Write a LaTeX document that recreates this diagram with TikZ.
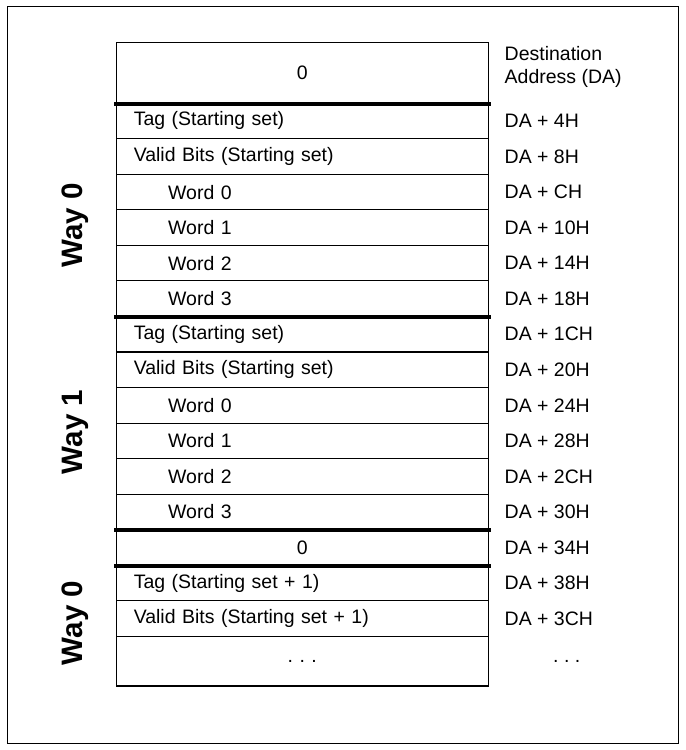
\documentclass[tikz,border=0pt]{standalone}
\usepackage{fontspec}
\setmainfont{Liberation Sans}
\begin{document}
\begin{tikzpicture}[
        cell/.style={
            rectangle,
            draw=black,
            line width=0.8pt,
            minimum width=9.74cm,
            minimum height=0.93cm,
            text width=8.82cm,
            inner xsep=0.46cm,
            inner ysep=0pt,
            align=left,
            font=\fontsize{14.5pt}{17pt}\selectfont
        },
        wordcell/.style={
            cell,
            text width=7.02cm,
            inner xsep=1.36cm
        },
        midcell/.style={
            cell,
            align=center
        },
        addr/.style={
            anchor=west,
            inner sep=0pt,
            align=left,
            font=\fontsize{14.5pt}{17pt}\selectfont
        },
        waylabel/.style={
            rotate=90,
            inner sep=0pt,
            font=\fontsize{22pt}{26pt}\selectfont\bfseries
        },
        sepline/.style={line width=2.8pt, line cap=rect}
    ]
    \useasboundingbox (0,0) rectangle (17.95,-19.625);
    % Outer frame
    \draw[line width=0.8pt] (0.2,-0.175) rectangle (17.75,-19.45);

    % Cells of the table
    \node[midcell, minimum height=1.6cm] (r0) at (7.91, -1.9) {0};
    \node[cell] (r1) at (7.91, -3.165) {Tag (Starting set)};
    \node[cell] (r2) at (7.91, -4.095) {Valid Bits (Starting set)};
    \node[wordcell] (r3) at (7.91, -5.025) {Word 0};
    \node[wordcell] (r4) at (7.91, -5.955) {Word 1};
    \node[wordcell] (r5) at (7.91, -6.885) {Word 2};
    \node[wordcell] (r6) at (7.91, -7.815) {Word 3};
    \node[cell] (r7) at (7.91, -8.745) {Tag (Starting set)};
    \node[cell] (r8) at (7.91, -9.675) {Valid Bits (Starting set)};
    \node[wordcell] (r9) at (7.91, -10.605) {Word 0};
    \node[wordcell] (r10) at (7.91, -11.535) {Word 1};
    \node[wordcell] (r11) at (7.91, -12.465) {Word 2};
    \node[wordcell] (r12) at (7.91, -13.395) {Word 3};
    \node[midcell] (r13) at (7.91, -14.325) {0};
    \node[cell] (r14) at (7.91, -15.255) {Tag (Starting set + 1)};
    \node[cell] (r15) at (7.91, -16.185) {Valid Bits (Starting set + 1)};
    \node[midcell, minimum height=1.3cm] (r16) at (7.91, -17.3) {.\ .\ .};

    % Heavy separators
    \draw[sepline] (r0.south west) -- (r0.south east);
    \draw[sepline] (r6.south west) -- (r6.south east);
    \draw[sepline] (r12.south west) -- (r12.south east);
    \draw[sepline] (r13.south west) -- (r13.south east);

    % Addresses
    \node[addr] (a0) at (13.2, -1.75) {Destination\\Address (DA)};
    \node[addr] (a1) at (13.2, -3.165) {DA + 4H};
    \node[addr] (a2) at (13.2, -4.095) {DA + 8H};
    \node[addr] (a3) at (13.2, -5.025) {DA + CH};
    \node[addr] (a4) at (13.2, -5.955) {DA + 10H};
    \node[addr] (a5) at (13.2, -6.885) {DA + 14H};
    \node[addr] (a6) at (13.2, -7.815) {DA + 18H};
    \node[addr] (a7) at (13.2, -8.745) {DA + 1CH};
    \node[addr] (a8) at (13.2, -9.675) {DA + 20H};
    \node[addr] (a9) at (13.2, -10.605) {DA + 24H};
    \node[addr] (a10) at (13.2, -11.535) {DA + 28H};
    \node[addr] (a11) at (13.2, -12.465) {DA + 2CH};
    \node[addr] (a12) at (13.2, -13.395) {DA + 30H};
    \node[addr] (a13) at (13.2, -14.325) {DA + 34H};
    \node[addr] (a14) at (13.2, -15.255) {DA + 38H};
    \node[addr] (a15) at (13.2, -16.185) {DA + 3CH};
    \node[addr, anchor=center] (a16) at (14.83, -17.3) {.\ .\ .};

    % Way labels
    \node[waylabel] (way0) at (1.98, -5.9) {Way 0};
    \node[waylabel] (way1) at (1.98, -11.3) {Way 1};
    \node[waylabel] (way0b) at (1.98, -16.3) {Way 0};
\end{tikzpicture}
\end{document}
